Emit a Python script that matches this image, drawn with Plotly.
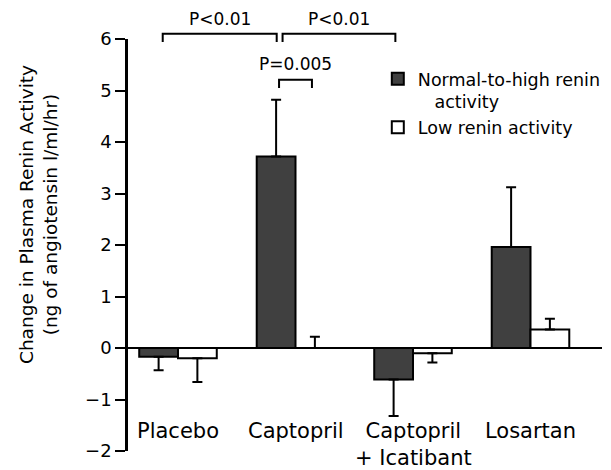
import plotly.graph_objects as go

categories = ["Placebo", "Captopril", "Captopril<br>+ Icatibant", "Losartan"]
series_names = ["Normal-to-high renin<br>\u00a0\u00a0\u00a0activity", "Low renin activity"]
normal_high = [-0.17, 3.72, -0.61, 1.96]
normal_high_err = [0.26, 1.10, 0.71, 1.16]
low_renin = [-0.20, 0.00, -0.10, 0.36]
low_renin_err = [0.46, 0.22, 0.18, 0.21]
y_ticks = [-2, -1, 0, 1, 2, 3, 4, 5, 6]

# significance brackets: (x0, x1, y, text, text_y)
brackets = [
    (-0.13, 0.84, 6.10, "P&lt;0.01", 6.38),
    (0.89, 1.85, 6.10, "P&lt;0.01", 6.38),
    (0.86, 1.14, 5.21, "P=0.005", 5.52),
]
bracket_tick = 0.16

YMIN, YMAX = -2, 6
FONT = "DejaVu Sans"
DARK = "#404040"

x_idx = list(range(len(categories)))


def err(vals, errs):
    plus = [e if v >= 0 else 0 for v, e in zip(vals, errs)]
    minus = [e if v < 0 else 0 for v, e in zip(vals, errs)]
    return dict(type="data", symmetric=False, array=plus, arrayminus=minus,
                color="black", thickness=2, width=5)


fig = go.Figure()
fig.add_trace(go.Bar(x=x_idx, y=normal_high, name=series_names[0],
                     marker=dict(color=DARK, line=dict(color="black", width=2)),
                     error_y=err(normal_high, normal_high_err)))
fig.add_trace(go.Bar(x=x_idx, y=low_renin, name=series_names[1],
                     marker=dict(color="white", line=dict(color="black", width=2)),
                     error_y=err(low_renin, low_renin_err)))


def dom(v):
    return (v - YMIN) / (YMAX - YMIN)


for x0, x1, y, txt, ty in brackets:
    fig.add_shape(type="path", xref="x", yref="y domain",
                  path=f"M {x0},{dom(y - bracket_tick)} L {x0},{dom(y)} L {x1},{dom(y)} L {x1},{dom(y - bracket_tick)}",
                  line=dict(color="black", width=2))
    fig.add_annotation(x=(x0 + x1) / 2, y=dom(ty), xref="x", yref="paper", text=txt,
                       xanchor="center", yanchor="middle",
                       showarrow=False, font=dict(family=FONT, size=17, color="black"))

for i, c in enumerate(categories):
    fig.add_annotation(x=i, y=-1.33, xref="x", yref="y", text=c, showarrow=False,
                       yanchor="top", font=dict(family=FONT, size=21, color="black"))

fig.add_annotation(x=-0.19, y=0.575, xref="paper", yref="paper",
                   xanchor="center", yanchor="middle",
                   text="Change in Plasma Renin Activity<br>(ng of angiotensin l/ml/hr)",
                   textangle=-90, showarrow=False,
                   font=dict(family=FONT, size=18.5, color="black"))

fig.update_layout(
    width=611, height=470,
    margin=dict(l=128, r=9, t=39, b=19, autoexpand=False),
    plot_bgcolor="white", paper_bgcolor="white",
    barmode="group", bargap=0.34, bargroupgap=0,
    font=dict(family=FONT, color="black"),
    legend=dict(x=0.527, y=0.947, xanchor="left", yanchor="top",
                font=dict(family=FONT, size=17.5, color="black"),
                valign="top", bgcolor="rgba(0,0,0,0)", itemclick=False),
    xaxis=dict(range=[-0.4255, 3.6085], showticklabels=False, ticks="",
               showgrid=False, showline=False, zeroline=False),
    yaxis=dict(range=[YMIN, YMAX], tickvals=y_ticks,
               ticktext=[("\u2212" + str(-t)) if t < 0 else str(t) for t in y_ticks],
               ticks="outside", ticklen=10, tickwidth=2, tickcolor="black",
               showline=True, linecolor="black", linewidth=2.5,
               showgrid=False, zeroline=True, zerolinecolor="black", zerolinewidth=2,
               tickfont=dict(family=FONT, size=18, color="black")),
)

fig.write_html("out.html", config={"displayModeBar": False},
               post_script="document.body.style.margin='0px';")
